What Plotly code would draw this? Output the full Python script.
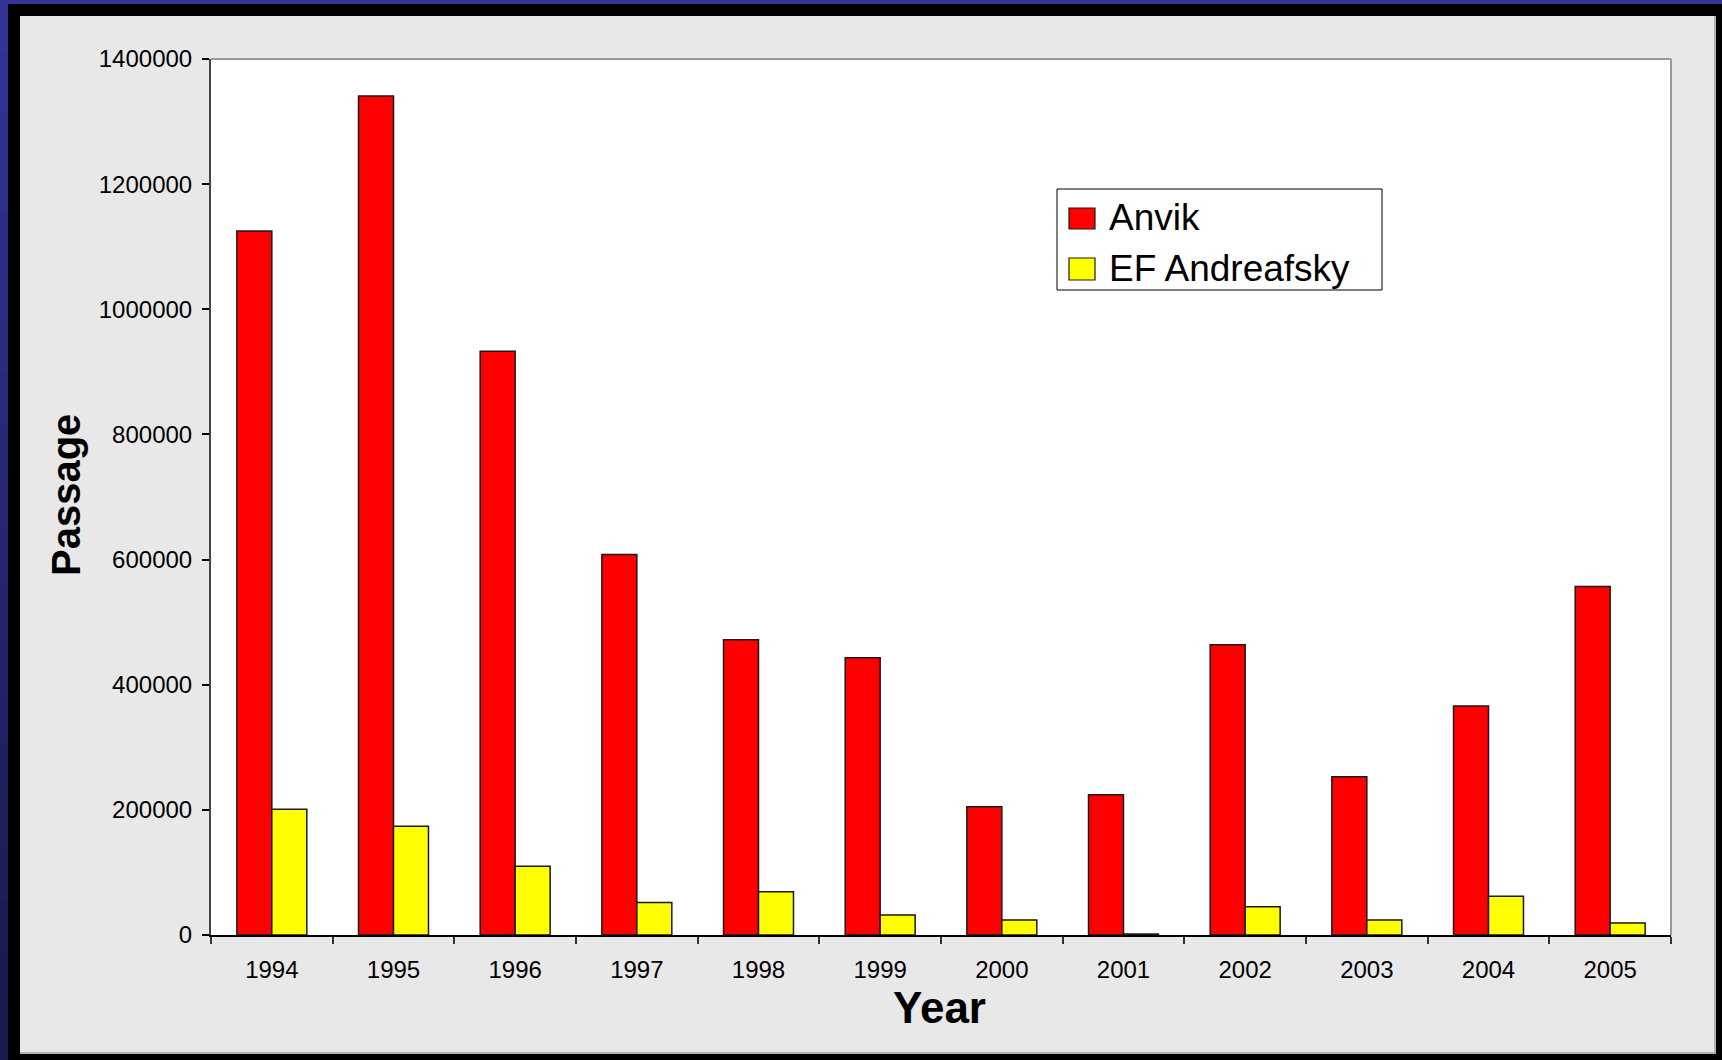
import plotly.graph_objects as go

years = ["1994", "1995", "1996", "1997", "1998", "1999", "2000", "2001", "2002", "2003", "2004", "2005"]
anvik = [1125000, 1341000, 933000, 608000, 472000, 443000, 205000, 224000, 464000, 253000, 366000, 557000]
ef_andreafsky = [201000, 174000, 110000, 52000, 69000, 32000, 24000, 1500, 45000, 24000, 62000, 19000]
series_names = ["Anvik", "EF Andreafsky"]
series_colors = ["#FF0000", "#FFFF00"]
y_ticks = [0, 200000, 400000, 600000, 800000, 1000000, 1200000, 1400000]

W, H = 1722, 1060
L, R, T, B = 211, 1671, 59, 935
PW, PH = R - L, B - T


def px(x):
    return (x - L) / PW


def py(y):
    return (B - y) / PH


FONT = "Liberation Sans, Arial, sans-serif"

fig = go.Figure()
for name, vals, col in zip(series_names, [anvik, ef_andreafsky], series_colors):
    fig.add_trace(go.Bar(
        x=years, y=vals, name=name,
        marker=dict(color=col, line=dict(color="#1a1a1a", width=1.5)),
        showlegend=False,
    ))

shapes = []


def rect(x0, y0, x1, y1, fill, layer="below", line=None):
    return dict(type="rect", xref="paper", yref="paper",
                x0=px(x0), x1=px(x1), y0=py(y1), y1=py(y0),
                fillcolor=fill, layer=layer, line=dict(width=0) if line is None else line)


shapes.append(rect(0, 0, W, 16, "#000000"))
shapes.append(rect(0, 0, 20, H, "#000000"))
shapes.append(rect(1716, 0, W, H, "#000000"))
shapes.append(rect(0, 1054, W, H, "#000000"))
shapes.append(rect(0, 0, W, 4, "#333399"))
# left blue strip, darkening downward
n = 20
c0 = (0x33, 0x33, 0x99)
c1 = (0x1A, 0x1A, 0x4D)
for i in range(n):
    t = i / (n - 1)
    c = "#%02X%02X%02X" % tuple(int(a + (b - a) * t) for a, b in zip(c0, c1))
    shapes.append(rect(0, i * H / n, 8, (i + 1) * H / n + 1, c))
# subtle panel edge
shapes.append(dict(type="line", xref="paper", yref="paper", x0=px(1715), x1=px(1715),
                   y0=py(16), y1=py(1054), line=dict(color="#A0A0A0", width=1.5), layer="below"))
shapes.append(dict(type="line", xref="paper", yref="paper", x0=px(20), x1=px(1715),
                   y0=py(1053), y1=py(1053), line=dict(color="#A0A0A0", width=1.5), layer="below"))
# plot area top and right border (gray)
shapes.append(dict(type="line", xref="paper", yref="paper", x0=0, x1=1, y0=1, y1=1,
                   line=dict(color="#999999", width=2), layer="above"))
shapes.append(dict(type="line", xref="paper", yref="paper", x0=1, x1=1, y0=0, y1=1,
                   line=dict(color="#999999", width=2), layer="above"))

# legend box
shapes.append(dict(type="rect", xref="paper", yref="paper", x0=px(1057), x1=px(1382),
                   y0=py(290), y1=py(189), fillcolor="#FFFFFF",
                   line=dict(color="#000000", width=1), layer="above"))
leg_rows = [(208, 229, 218), (258, 280, 269)]
annotations = []
for (ya, yb, yc), name, col in zip(leg_rows, series_names, series_colors):
    shapes.append(dict(type="rect", xref="paper", yref="paper", x0=px(1069), x1=px(1095),
                       y0=py(yb), y1=py(ya), fillcolor=col,
                       line=dict(color="#1a1a1a", width=1.2), layer="above"))
    annotations.append(dict(text=name, xref="paper", yref="paper", x=px(1107), y=py(yc - 1),
                            xanchor="left", yanchor="middle", showarrow=False,
                            font=dict(family=FONT, size=37, color="#000000")))

annotations.append(dict(text="<b>Year</b>", xref="paper", yref="paper", x=px(939), y=py(1008),
                        xanchor="center", yanchor="middle", showarrow=False,
                        font=dict(family=FONT, size=44, color="#000000")))
annotations.append(dict(text="<b>Passage</b>", xref="paper", yref="paper", x=px(66), y=py(495),
                        xanchor="center", yanchor="middle", showarrow=False, textangle=-90,
                        font=dict(family=FONT, size=40, color="#000000")))

fig.update_layout(
    width=W, height=H,
    margin=dict(l=L, r=W - R, t=T, b=H - B, pad=0),
    paper_bgcolor="#E8E8E8",
    plot_bgcolor="#FFFFFF",
    barmode="group",
    bargap=0.425,
    bargroupgap=0,
    shapes=shapes,
    annotations=annotations,
    font=dict(family=FONT, color="#000000"),
)
fig.update_xaxes(
    type="category", tickson="boundaries", ticks="outside", ticklen=7, tickwidth=1.5,
    tickcolor="#333333", showline=True, linecolor="#000000", linewidth=2,
    showgrid=False, zeroline=False, tickfont=dict(family=FONT, size=24, color="#000000"),
    ticklabelstandoff=12,
)
fig.update_yaxes(
    range=[0, 1400000], tickvals=y_ticks, ticktext=[str(v) for v in y_ticks],
    ticks="outside", ticklen=7, tickwidth=1.5, tickcolor="#000000",
    showline=True, linecolor="#444444", linewidth=2, showgrid=False, zeroline=False,
    tickfont=dict(family=FONT, size=24, color="#000000"), ticklabelstandoff=5,
)

fig.write_html(
    "out.html",
    config={"displayModeBar": False},
    post_script="document.body.style.margin='0';document.body.style.background='#000';",
)
